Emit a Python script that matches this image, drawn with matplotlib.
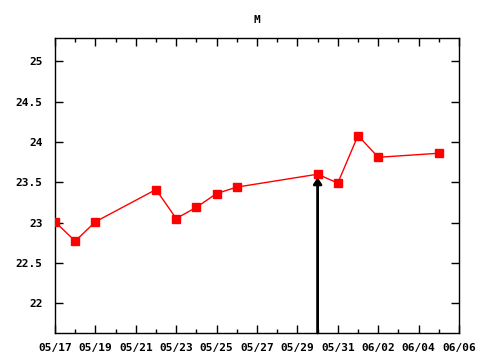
import matplotlib as mpl

mpl.use("Agg")

import matplotlib.pyplot as plt
import matplotlib.dates as mdates
import numpy as np

dates = np.array(["2024-05-17", "2024-05-18", "2024-05-19", "2024-05-22", "2024-05-23",
                  "2024-05-24", "2024-05-25", "2024-05-26", "2024-05-30", "2024-05-31",
                  "2024-06-01", "2024-06-02", "2024-06-05"], dtype="datetime64[D]")
values = [23.01, 22.77, 23.01, 23.41, 23.05, 23.19, 23.36, 23.44, 23.60, 23.49, 24.08, 23.81, 23.86]
arrow_date = np.datetime64("2024-05-30")
arrow_value = 23.56
title = "M"


def to_num(d):
    return mdates.date2num(np.datetime64(d, "s").astype(object))


mpl.rcParams.update({
    "font.family": "DejaVu Sans Mono",
    "font.weight": "bold",
    "font.size": 8,
})

fig = plt.figure(figsize=(4.8, 3.6), dpi=100)
ax = fig.add_axes([55 / 480, 1 - 333 / 360, 404 / 480, 295 / 360])

x = [to_num(d) for d in dates]
xa = to_num(arrow_date)
x0 = to_num(np.datetime64("2024-05-17"))
x1 = to_num(np.datetime64("2024-06-06"))
ylo, yhi = 21.63, 25.29

ax.annotate("", xy=(xa, arrow_value), xytext=(xa, ylo),
            arrowprops=dict(arrowstyle="-|>,head_length=0.45,head_width=0.3", color="black", lw=2,
                            shrinkA=0, shrinkB=0), zorder=2)
ax.plot(x, values, color="red", lw=1, marker="s", ms=5.3, mec="red", mfc="red", zorder=3)

ax.set_xlim(x0, x1)
ax.set_ylim(ylo, yhi)
ax.set_xticks([x0 + 2 * i for i in range(11)])
ax.set_xticks([x0 + i for i in range(21)], minor=True)
ax.xaxis.set_major_formatter(mdates.DateFormatter("%m/%d"))
ax.set_yticks([22, 22.5, 23, 23.5, 24, 24.5, 25])
ax.set_yticklabels(["22", "22.5", "23", "23.5", "24", "24.5", "25"])
ax.tick_params(which="both", direction="in", top=True, right=True, color="black")
ax.tick_params(which="major", length=6, width=1)
ax.tick_params(axis="x", which="major", pad=7)
ax.tick_params(axis="y", which="major", pad=9)
ax.tick_params(which="minor", length=3, width=1)
for s in ax.spines.values():
    s.set_linewidth(1)
ax.set_title(title, fontsize=8, fontweight="bold", pad=11)

fig.savefig("out.png", dpi=100)
